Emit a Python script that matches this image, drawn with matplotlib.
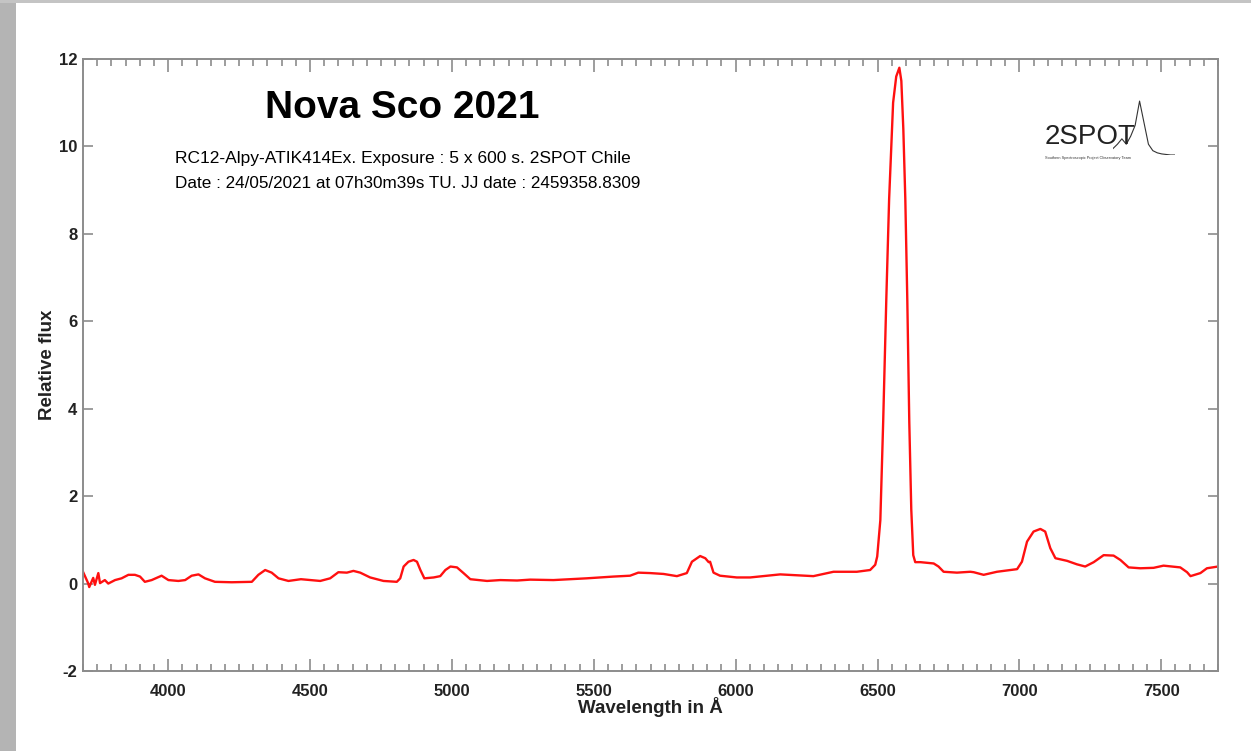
import matplotlib
matplotlib.use("Agg")
import matplotlib.pyplot as plt
from matplotlib.patches import Rectangle
from matplotlib.ticker import MultipleLocator

plt.rcParams['font.family'] = ['Liberation Sans', 'DejaVu Sans']
plt.rcParams['axes.unicode_minus'] = False

# spectrum (wavelength in A, relative flux)
wave = [3700, 3718, 3722, 3736, 3742, 3754, 3760, 3777, 3789, 3813, 3836, 3860,
        3883, 3901, 3918, 3942, 3977, 4001, 4036, 4060, 4083, 4107, 4130, 4165,
        4224, 4295, 4318, 4342, 4365, 4389, 4424, 4468, 4536, 4571, 4600, 4630,
        4653, 4677, 4712, 4759, 4806, 4818, 4830, 4847, 4865, 4877, 4889, 4903,
        4936, 4959, 4977, 4995, 5018, 5041, 5065, 5124, 5171, 5230, 5276, 5358,
        5475, 5569, 5628, 5657, 5699, 5746, 5793, 5828, 5846, 5875, 5893, 5905,
        5910, 5922, 5945, 6004, 6051, 6157, 6274, 6345, 6427, 6474, 6492, 6499,
        6510, 6520, 6531, 6541, 6548, 6555, 6566, 6577, 6584, 6591, 6598, 6605,
        6612, 6619, 6626, 6633, 6651, 6698, 6715, 6733, 6780, 6827, 6839, 6874,
        6921, 6992, 7009, 7027, 7050, 7074, 7091, 7109, 7127, 7168, 7203, 7232,
        7262, 7297, 7332, 7356, 7385, 7426, 7473, 7508, 7567, 7591, 7603, 7638,
        7661, 7700]
flux = [0.27, 0.01, -0.08, 0.13, -0.03, 0.24, 0.01, 0.08, 0.00, 0.08, 0.12, 0.20,
        0.20, 0.16, 0.04, 0.08, 0.18, 0.08, 0.06, 0.08, 0.18, 0.21, 0.12, 0.04,
        0.03, 0.04, 0.20, 0.31, 0.25, 0.12, 0.06, 0.10, 0.06, 0.12, 0.26, 0.25,
        0.29, 0.25, 0.14, 0.06, 0.04, 0.12, 0.39, 0.50, 0.54, 0.50, 0.31, 0.12,
        0.14, 0.17, 0.31, 0.39, 0.37, 0.24, 0.10, 0.06, 0.08, 0.07, 0.09, 0.08,
        0.12, 0.16, 0.18, 0.25, 0.24, 0.22, 0.17, 0.24, 0.50, 0.63, 0.58, 0.49,
        0.50, 0.25, 0.18, 0.14, 0.14, 0.21, 0.17, 0.27, 0.27, 0.31, 0.43, 0.62,
        1.45, 3.70, 6.50, 8.80, 9.90, 11.00, 11.60, 11.80, 11.50, 10.40, 8.80, 6.50,
        3.70, 1.70, 0.65, 0.49, 0.49, 0.46, 0.39, 0.27, 0.25, 0.27, 0.26, 0.20,
        0.27, 0.33, 0.50, 0.96, 1.19, 1.25, 1.19, 0.81, 0.58, 0.52, 0.44, 0.39,
        0.49, 0.65, 0.64, 0.54, 0.37, 0.35, 0.36, 0.41, 0.37, 0.26, 0.17, 0.24,
        0.35, 0.39]

# little peak for the 2SPOT logo
logo_x = [0, 1, 2, 3, 4, 5, 6, 7, 8, 9, 10, 11, 12, 13, 14]
logo_y = [0.12, 0.2, 0.3, 0.2, 0.35, 0.55, 1.0, 0.6, 0.2, 0.08, 0.04, 0.02, 0.01, 0.0, 0.0]

title = "Nova Sco 2021"
line1 = "RC12-Alpy-ATIK414Ex. Exposure : 5 x 600 s. 2SPOT Chile"
line2 = "Date : 24/05/2021 at 07h30m39s TU. JJ date : 2459358.8309"

fig = plt.figure(figsize=(12.51, 7.51), dpi=100)
# grey frame of the screenshot
fig.add_artist(Rectangle((0, 0), 16 / 1251, 1, transform=fig.transFigure,
                         color='#b4b4b4', lw=0))
fig.add_artist(Rectangle((0, 1 - 3 / 751), 1, 3 / 751, transform=fig.transFigure,
                         color='#c4c4c4', lw=0))

ax = fig.add_axes([83 / 1251, 1 - 671 / 751, 1135 / 1251, 612 / 751])
ax.plot(wave, flux, color='#ff1010', lw=1.7)
ax.set_xlim(3700, 7700)
ax.set_ylim(-2, 12)
ax.xaxis.set_major_locator(MultipleLocator(500))
ax.xaxis.set_minor_locator(MultipleLocator(50))
ax.yaxis.set_major_locator(MultipleLocator(2))

grey = '#8c8c8c'
for s in ax.spines.values():
    s.set_color(grey)
    s.set_linewidth(1.4)
ax.tick_params(which='both', direction='in', top=True, right=True, color=grey,
               width=1.2)
ax.tick_params(which='major', length=9, labelsize=12, pad=9)
ax.tick_params(which='minor', length=5)
ax.tick_params(axis='y', which='major', length=7, pad=4)
for lab in ax.get_xticklabels() + ax.get_yticklabels():
    lab.set_fontweight('bold')
    lab.set_color('#222222')

ax.set_xlabel("Wavelength in Å", fontsize=13.5, fontweight='bold',
              color='#222222', labelpad=-1)
ax.set_ylabel("Relative flux", fontsize=13.5, fontweight='bold',
              color='#222222', labelpad=2)

fig.text(402 / 1251, 1 - 108 / 751, title, fontsize=28, fontweight='bold',
         ha='center', va='center')
fig.text(403 / 1251, 1 - 159 / 751, line1, fontsize=12.5, ha='center', va='center')
fig.text(408 / 1251, 1 - 184 / 751, line2, fontsize=12.3, ha='center', va='center')

# 2SPOT logo
fig.text(1045 / 1251, 1 - 137 / 751, "2SPOT", fontsize=20, ha='left',
         va='center', color='#222222')
fig.text(1045 / 1251, 1 - 158 / 751,
         "Southern Spectroscopic Project Observatory Team", fontsize=2.8,
         ha='left', va='center', color='#333333')
lax = fig.add_axes([1113 / 1251, 1 - 155 / 751, 62 / 1251, 55 / 751])
lax.plot(logo_x, logo_y, color='#333333', lw=0.8)
lax.set_xlim(0, 14)
lax.set_ylim(0, 1.02)
lax.axis('off')

fig.savefig('out.png', dpi=100)
